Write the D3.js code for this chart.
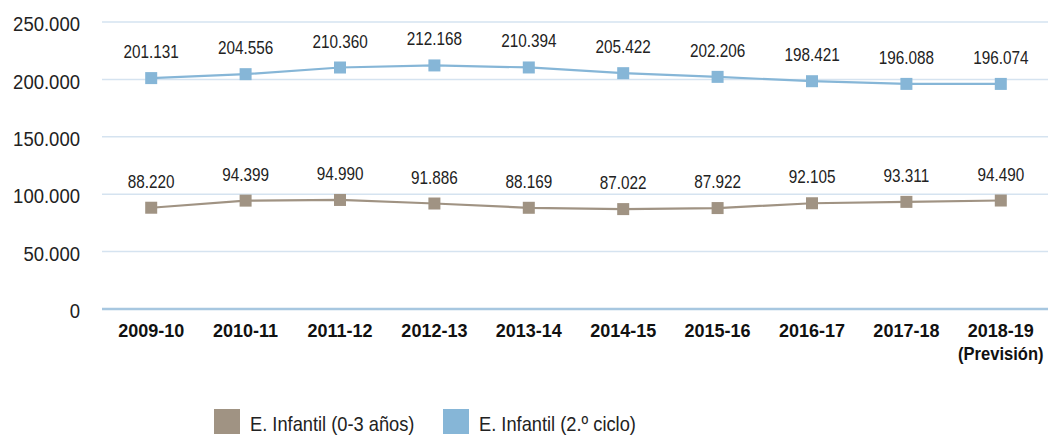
<!DOCTYPE html>
<html><head><meta charset="utf-8">
<script src="https://cdn.jsdelivr.net/npm/d3@7"></script>
<style>body{margin:0;background:#fff}svg{display:block}text{font-family:"Liberation Sans",Arial,sans-serif}</style>
</head><body><svg id="c" width="1048" height="435"></svg>
<script>
const categories = ["2009-10","2010-11","2011-12","2012-13","2013-14","2014-15","2015-16","2016-17","2017-18","2018-19"];
const categorySub = ["","","","","","","","","","(Previsión)"];
const infantil03 = [88220,94399,94990,91886,88169,87022,87922,92105,93311,94490];
const infantil2 = [201131,204556,210360,212168,210394,205422,202206,198421,196088,196074];
const yTicks = [0,50000,100000,150000,200000,250000];
const seriesNames = ["E. Infantil (0-3 años)","E. Infantil (2.º ciclo)"];
const colors = ["#a09383","#86b6d7"];

const fmt = v => d3.format(",")(v).replace(/,/g,".");
const svg = d3.select("#c");
const x = d3.scaleBand().domain(categories).range([104,1048]);
const y = d3.scaleLinear().domain([0,250000]).range([309,22]);

const g = svg.append("g");
g.selectAll(".grid").data(yTicks.filter(d=>d>0)).join("line")
 .attr("x1",102).attr("x2",1048).attr("y1",d=>y(d)).attr("y2",d=>y(d))
 .attr("stroke","#d5e3f0").attr("stroke-width",1.5);
g.append("line").attr("x1",102).attr("x2",1048).attr("y1",y(0)).attr("y2",y(0))
 .attr("stroke","#a7c7e0").attr("stroke-width",2.5);

const yAxis = svg.append("g").attr("transform","translate(80,0)")
 .call(d3.axisLeft(y).tickValues(yTicks).tickSize(0).tickPadding(0).tickFormat(fmt));
yAxis.select(".domain").remove();
yAxis.selectAll("text").attr("font-size",19.5).attr("fill","#222").attr("dy","0.45em")
 .attr("transform","scale(0.95,1)").attr("x",0);

const xAxis = svg.append("g").attr("transform",`translate(0,${y(0)})`)
 .call(d3.axisBottom(x).tickSize(0).tickPadding(0));
xAxis.select(".domain").remove();
xAxis.selectAll("text").attr("font-size",18).attr("font-weight","bold").attr("fill","#111").attr("dy",28);
xAxis.selectAll(".tick").append("text").text((d,i)=>categorySub[i])
 .attr("font-size",18).attr("font-weight","bold").attr("fill","#111").attr("y",51).attr("text-anchor","middle")
 .attr("transform","scale(0.92,1)");

const cx = d => x(d)+x.bandwidth()/2;
[infantil03, infantil2].forEach((vals,si)=>{
  const data = categories.map((c,i)=>({c,v:vals[i]}));
  svg.append("path").datum(data)
   .attr("d", d3.line().x(d=>cx(d.c)).y(d=>y(d.v)))
   .attr("fill","none").attr("stroke",colors[si]).attr("stroke-width",2.2);
  svg.selectAll(null).data(data).join("rect")
   .attr("x",d=>cx(d.c)-6).attr("y",d=>y(d.v)-6).attr("width",12).attr("height",12)
   .attr("fill",colors[si]);
  svg.selectAll(null).data(data).join("text")
   .attr("transform",d=>`translate(${cx(d.c)},${y(d.v)-20}) scale(0.85,1)`)
   .attr("text-anchor","middle")
   .attr("font-size",18).attr("fill","#222").text(d=>fmt(d.v));
});

const leg = svg.append("g");
const legX = [214,443];
seriesNames.forEach((n,i)=>{
  leg.append("rect").attr("x",legX[i]).attr("y",409).attr("width",26).attr("height",25).attr("fill",colors[i]);
  leg.append("text").attr("transform",`translate(${legX[i]+36},431) scale(0.87,1)`)
   .attr("font-size",21).attr("fill","#222").text(n);
});
</script></body></html>
